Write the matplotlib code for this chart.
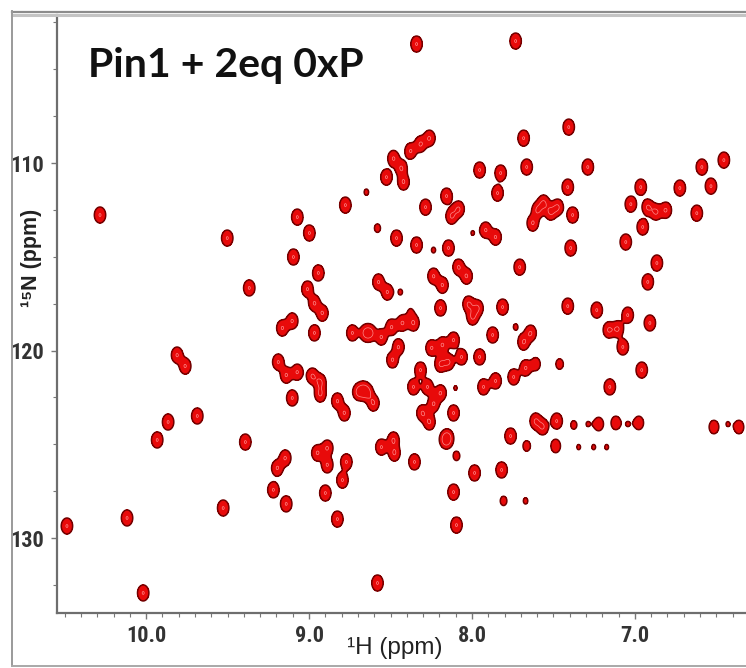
import numpy as np
import matplotlib
matplotlib.use("Agg")
import matplotlib.pyplot as plt
from matplotlib.lines import Line2D
from matplotlib.ticker import MultipleLocator, FixedLocator, FixedFormatter
from matplotlib import font_manager

# ---------------- data (1H / 15N chemical shifts in ppm) ----------------
title_text = "Pin1 + 2eq 0xP"
x_label = "\u00b9H (ppm)"
y_label = "\u00b9\u2075N (ppm)"
x_ticks = [10.0, 9.0, 8.0, 7.0]
x_tick_labels = ["10.0", "9.0", "8.0", "7.0"]
y_ticks = [110, 120, 130]
y_tick_labels = ["110", "120", "130"]

# strong cross peaks
h_ppm = [
    8.340, 7.732, 7.406, 7.683, 8.482, 8.377, 8.316, 8.261, 8.525, 8.433,
    8.420, 7.953, 7.824, 7.664, 7.289, 7.412, 7.843, 6.589, 6.454, 6.964,
    6.724, 6.533, 8.285, 8.156, 8.125, 8.082, 7.597, 7.560, 7.517, 7.474,
    7.627, 7.382, 7.025, 6.921, 6.871, 6.810, 6.952, 6.620, 8.463, 8.340,
    8.144, 7.916, 7.855, 7.394, 7.056, 6.865, 6.921, 8.574, 8.519, 8.236,
    8.181, 8.082, 8.033, 7.707, 8.193, 8.021, 7.966, 7.996, 7.812, 7.412,
    7.234, 7.044, 6.908, 7.160, 7.105, 7.074, 7.640, 7.683, 6.958, 7.671,
    7.154, 7.609, 7.566, 7.480, 7.763,
    10.283, 9.502, 9.072, 8.998, 9.096, 8.943, 9.367, 8.777, 9.010, 8.967,
    8.918, 9.164, 9.103, 8.967, 8.734, 8.654, 9.810, 9.760, 9.686, 9.865,
    9.932, 9.391, 9.527, 10.117, 10.486, 10.018, 9.189, 9.140, 9.072, 8.980,
    8.931, 9.103, 8.931, 8.826, 8.783, 8.697, 8.641, 9.146, 9.195, 9.219,
    9.140, 8.949, 8.888, 8.888, 8.771, 8.795, 8.900, 8.826, 8.580, 8.556,
    8.482, 8.476, 8.353, 8.162, 8.113, 8.095, 7.984, 7.818,
    8.623, 8.556, 8.494, 8.427, 8.359, 8.451, 8.488, 8.248, 8.181, 8.113,
    8.064, 8.144, 8.193, 7.953, 7.873, 7.744, 7.929, 7.855, 8.316, 8.359,
    8.273, 8.193, 8.236, 8.666, 8.605, 8.304, 8.261, 8.113, 8.150,
]
n_ppm = [
    103.65, 103.49, 108.08, 108.67, 109.75, 109.36, 108.99, 108.67, 110.75, 110.27,
    111.01, 110.37, 110.53, 110.21, 110.21, 111.28, 111.60, 110.21, 109.84, 111.28,
    111.33, 111.23, 112.35, 111.76, 112.83, 112.45, 112.51, 112.13, 112.61, 112.35,
    113.20, 112.77, 112.19, 112.35, 112.61, 112.51, 113.41, 112.67, 114.00, 114.37,
    114.53, 113.57, 113.95, 114.53, 114.21, 115.33, 116.34, 116.34, 116.88, 116.03,
    116.51, 115.55, 116.03, 115.55, 117.73, 117.52, 117.73, 118.21, 117.68, 117.63,
    117.84, 118.11, 118.53, 118.90, 118.85, 119.81, 119.07, 119.55, 121.04, 120.93,
    121.94, 123.76, 124.07, 123.76, 124.56,
    112.77, 114.00, 112.88, 113.73, 115.01, 115.86, 116.66, 112.24, 116.72, 117.47,
    118.00, 118.80, 118.42, 119.06, 119.06, 119.06, 120.24, 120.83, 123.49, 123.81,
    124.77, 124.88, 128.40, 128.93, 129.36, 132.93, 120.61, 121.31, 121.15, 121.36,
    121.68, 122.53, 122.32, 122.69, 123.33, 122.21, 122.26, 125.73, 126.27, 127.43,
    128.18, 125.46, 125.20, 126.10, 125.94, 126.91, 127.60, 128.99, 132.40, 125.15,
    124.77, 125.47, 125.94, 124.77, 127.55, 129.31, 126.53, 126.37,
    119.06, 119.28, 118.75, 118.53, 118.53, 119.81, 120.50, 119.86, 119.70, 119.44,
    120.34, 120.61, 120.72, 120.34, 119.17, 121.41, 121.94, 121.62, 121.04, 121.94,
    121.94, 122.26, 122.85, 122.10, 122.80, 123.33, 123.81, 123.33, 124.66,
]

# weaker peaks (side-chain / minor signals)
weak_h_ppm = [7.609, 7.462, 7.222, 7.117, 6.976, 6.515, 6.361, 7.375, 7.664, 7.486,
              7.345, 7.253, 7.173,
              8.648, 8.580, 7.996, 8.236, 8.439, 8.377, 7.732, 8.101, 8.095, 7.806,
              7.671, 7.289, 7.044, 6.430]
weak_n_ppm = [120.72, 120.72, 123.92, 123.86, 123.86, 124.08, 124.08, 123.97, 125.09, 125.09,
              125.15, 125.15, 125.15,
              111.55, 113.47, 113.73, 114.64, 116.88, 117.94, 118.74, 122.00, 125.62, 128.02,
              128.02, 123.92, 123.92, 123.92]
weak_intensity = [0.65, 0.5, 0.7, 0.7, 0.7, 0.7, 0.7, 0.42, 0.5, 0.7,
                  0.34, 0.34, 0.34,
                  0.36, 0.42, 0.33, 0.35, 0.35, 0.35, 0.36, 0.33, 0.45, 0.45,
                  0.36, 0.33, 0.33, 0.33]

# ---------------- fonts ----------------
installed = {f.name for f in font_manager.fontManager.ttflist}
narrow_family = [f for f in ["Liberation Sans Narrow", "DejaVu Sans Condensed",
                             "Roboto Condensed", "Open Sans Condensed"] if f in installed]
tick_family = (narrow_family[:1] or []) + ["Liberation Sans", "DejaVu Sans"]

# ---------------- figure ----------------
W, H_px = 746, 668
fig = plt.figure(figsize=(W / 100, H_px / 100), dpi=100)
fig.patch.set_facecolor("white")

ax_l, ax_r, ax_t, ax_b = 57, 746, 15, 613
ax = fig.add_axes([ax_l / W, 1 - ax_b / H_px, (ax_r - ax_l) / W, (ax_b - ax_t) / H_px])

all_h = np.array(h_ppm + weak_h_ppm)
all_n = np.array(n_ppm + weak_n_ppm)
amp = np.array([1.0] * len(h_ppm) + weak_intensity)

sig_h, sig_n = 0.0225, 0.275
gh = np.linspace(6.2, 10.7, 1600)
gn = np.linspace(101.0, 135.5, 1000)
GX = np.exp(-0.5 * ((gh[None, :] - all_h[:, None]) / sig_h) ** 2)
GY = np.exp(-0.5 * ((gn[None, :] - all_n[:, None]) / sig_n) ** 2)
Z = (GY * amp[:, None]).T @ GX

ax.contourf(gh, gn, Z, levels=[0.3, 1e6], colors=["#e80a0a"])
ax.contour(gh, gn, Z, levels=[0.3], colors=["#700000"], linewidths=1.1)
ax.contour(gh, gn, Z, levels=[0.96], colors=["#ff8a8a"], linewidths=0.5)

ax.set_xlim(10.547, 6.318)
ax.set_ylim(134.0, 102.1)

for s in ["top", "right"]:
    ax.spines[s].set_visible(False)
for s in ["left", "bottom"]:
    ax.spines[s].set_color("#6e6e6e")
    ax.spines[s].set_linewidth(1.6)

ax.xaxis.set_major_locator(FixedLocator(x_ticks))
ax.xaxis.set_major_formatter(FixedFormatter(x_tick_labels))
ax.xaxis.set_minor_locator(MultipleLocator(0.1))
ax.yaxis.set_major_locator(FixedLocator(y_ticks))
ax.yaxis.set_major_formatter(FixedFormatter(y_tick_labels))
ax.yaxis.set_minor_locator(MultipleLocator(2.5))
ax.tick_params(which="both", direction="out", color="#777777", labelcolor="#333333")
ax.tick_params(which="major", length=4, width=1.0, pad=5)
ax.tick_params(which="minor", length=3, width=0.8)
for lab in ax.get_xticklabels() + ax.get_yticklabels():
    lab.set_fontfamily(tick_family)
    lab.set_fontweight("bold")
    lab.set_fontsize(16 if narrow_family else 15)
    if not narrow_family:
        lab.set_fontstretch("condensed")

ax.set_xlabel(x_label, fontsize=17.5, family=["Liberation Sans", "DejaVu Sans"],
              color="#222222", va="center")
ax.xaxis.set_label_coords((395 - ax_l) / (ax_r - ax_l), (ax_b - 648) / (ax_b - ax_t))
ax.set_ylabel(y_label, fontsize=15.5, family=["Liberation Sans", "DejaVu Sans"],
              weight="bold", color="#222222", va="center")
ax.yaxis.set_label_coords((31 - ax_l) / (ax_r - ax_l), (ax_b - 258) / (ax_b - ax_t))

fig.text(88 / W, 1 - 77 / H_px, title_text, fontsize=29.5, fontweight="bold",
         family=["Lato", "DejaVu Sans"], color="#111111", va="baseline", ha="left")

# outer frame of the screenshot
def fline(x0, y0, x1, y1, c, lw):
    fig.add_artist(Line2D([x0 / W, x1 / W], [1 - y0 / H_px, 1 - y1 / H_px],
                          transform=fig.transFigure, color=c, linewidth=lw))

fline(12, 11.5, 746, 11.5, "#8c8c8c", 1.6)
fline(12, 14.5, 746, 14.5, "#c4c4c4", 2.2)
fline(12, 11, 12, 666, "#9a9a9a", 1.4)
fline(12, 666, 746, 666, "#a8a8a8", 1.4)

fig.savefig("out.png", dpi=100)
